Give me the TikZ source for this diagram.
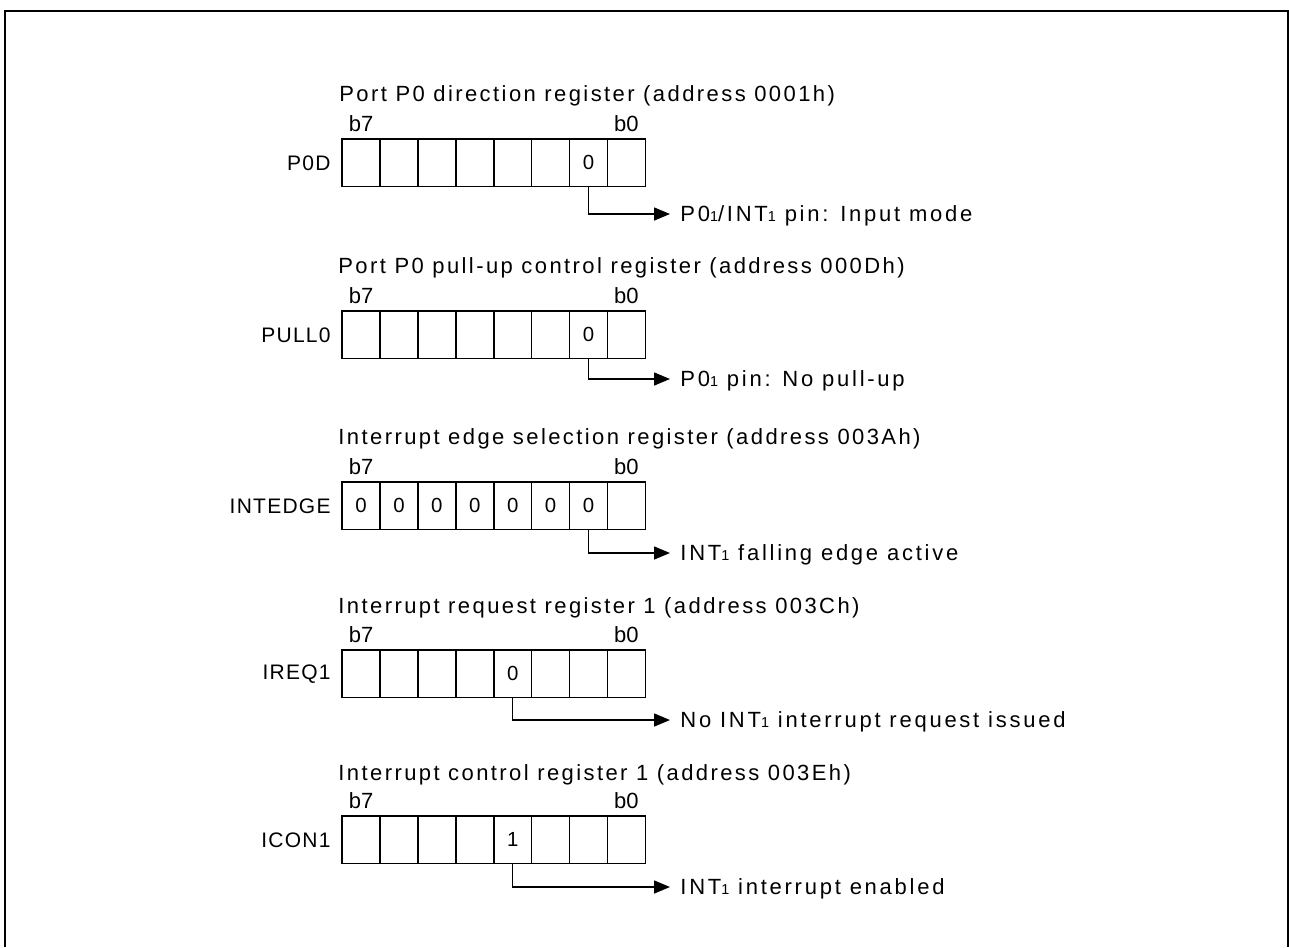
\documentclass[tikz,border=0pt]{standalone}
\usepackage{fontspec}
\setmainfont{Liberation Sans}
\newfontfamily\widefont[LetterSpace=12.5]{Liberation Sans}
\newfontfamily\titlefont[LetterSpace=11]{Liberation Sans}
\newfontfamily\namefont[LetterSpace=6]{Liberation Sans}
\usetikzlibrary{matrix,arrows.meta,positioning}
\newcommand{\idx}[1]{{\fontsize{7.2}{8}\selectfont #1}}

\tikzset{
	reg/.style={matrix of nodes, nodes in empty cells, inner sep=0pt, anchor=north west, column sep=-0.75pt,
		nodes={draw, line width=0.75pt, anchor=center, minimum width=18.95pt, minimum height=23.75pt, inner sep=0pt, font=\fontsize{10.2}{12}\selectfont}},
	regname/.style={anchor=east, inner sep=0pt, font=\namefont\fontsize{10.5}{12.6}\selectfont},
	bitno/.style={anchor=base, inner sep=0pt},
	regtitle/.style={anchor=base west, inner sep=0pt, font=\titlefont\fontsize{11}{13}\selectfont},
	result/.style={anchor=west, inner sep=0pt, text depth=0pt, font=\widefont\fontsize{11}{13}\selectfont},
	flag/.style={-{Triangle[length=8pt,width=6.5pt]}, line width=0.75pt, shorten >=5pt}
}

\begin{document}
\begin{tikzpicture}[x=0.5pt, y=-0.5pt, font=\fontsize{11}{13}\selectfont]
			\useasboundingbox (0,0) rectangle (1289,947);
			\draw[line width=1.2pt] (5,947) -- (5,11) -- (1288,11) -- (1288,947);

			\node[regtitle] (pod-title) at (339,102) {Port P0 direction register (address 0001h)};
			\matrix (pod) [reg] at (341,138) { & & & & & & 0 & \\ };
			\node[regname] (pod-name) at ([xshift=-5pt]pod.west) {P0D};
			\node[bitno] (pod-b7) at ([yshift=3.5pt]pod-1-1.north) {b7};
			\node[bitno] (pod-b0) at ([yshift=3.5pt]pod-1-8.north) {b0};
			\node[result] (pod-res) at (680,214) {P0\idx{1}/INT\idx{1} pin: Input mode};
			\draw[flag] (pod-1-7.south) |- (pod-res.west);

			\node[regtitle] (pull-title) at (338,273) {Port P0 pull-up control register (address 000Dh)};
			\matrix (pull) [reg] at (341,310) { & & & & & & 0 & \\ };
			\node[regname] (pull-name) at ([xshift=-5pt]pull.west) {PULL0};
			\node[bitno] (pull-b7) at ([yshift=3.5pt]pull-1-1.north) {b7};
			\node[bitno] (pull-b0) at ([yshift=3.5pt]pull-1-8.north) {b0};
			\node[result] (pull-res) at (680,379) {P0\idx{1} pin: No pull-up};
			\draw[flag] (pull-1-7.south) |- (pull-res.west);

			\node[regtitle] (intedge-title) at (338,444) {Interrupt edge selection register (address 003Ah)};
			\matrix (intedge) [reg] at (341,481) { 0 & 0 & 0 & 0 & 0 & 0 & 0 & \\ };
			\node[regname] (intedge-name) at ([xshift=-5pt]intedge.west) {INTEDGE};
			\node[bitno] (intedge-b7) at ([yshift=3.5pt]intedge-1-1.north) {b7};
			\node[bitno] (intedge-b0) at ([yshift=3.5pt]intedge-1-8.north) {b0};
			\node[result] (intedge-res) at (680,553) {INT\idx{1} falling edge active};
			\draw[flag] (intedge-1-7.south) |- (intedge-res.west);

			\node[regtitle] (ireq-title) at (338,613) {Interrupt request register 1 (address 003Ch)};
			\matrix (ireq) [reg] at (341,649) { & & & & 0 & & & \\ };
			\node[regname] (ireq-name) at ([xshift=-5pt]ireq.west) {IREQ1};
			\node[bitno] (ireq-b7) at ([yshift=3.5pt]ireq-1-1.north) {b7};
			\node[bitno] (ireq-b0) at ([yshift=3.5pt]ireq-1-8.north) {b0};
			\node[result] (ireq-res) at (680,720) {No INT\idx{1} interrupt request issued};
			\draw[flag] (ireq-1-5.south) |- (ireq-res.west);

			\node[regtitle] (icon-title) at (338,780) {Interrupt control register 1 (address 003Eh)};
			\matrix (icon) [reg] at (341,815) { & & & & 1 & & & \\ };
			\node[regname] (icon-name) at ([xshift=-5pt]icon.west) {ICON1};
			\node[bitno] (icon-b7) at ([yshift=3.5pt]icon-1-1.north) {b7};
			\node[bitno] (icon-b0) at ([yshift=3.5pt]icon-1-8.north) {b0};
			\node[result] (icon-res) at (680,887) {INT\idx{1} interrupt enabled};
			\draw[flag] (icon-1-5.south) |- (icon-res.west);
		\end{tikzpicture}
\end{document}
